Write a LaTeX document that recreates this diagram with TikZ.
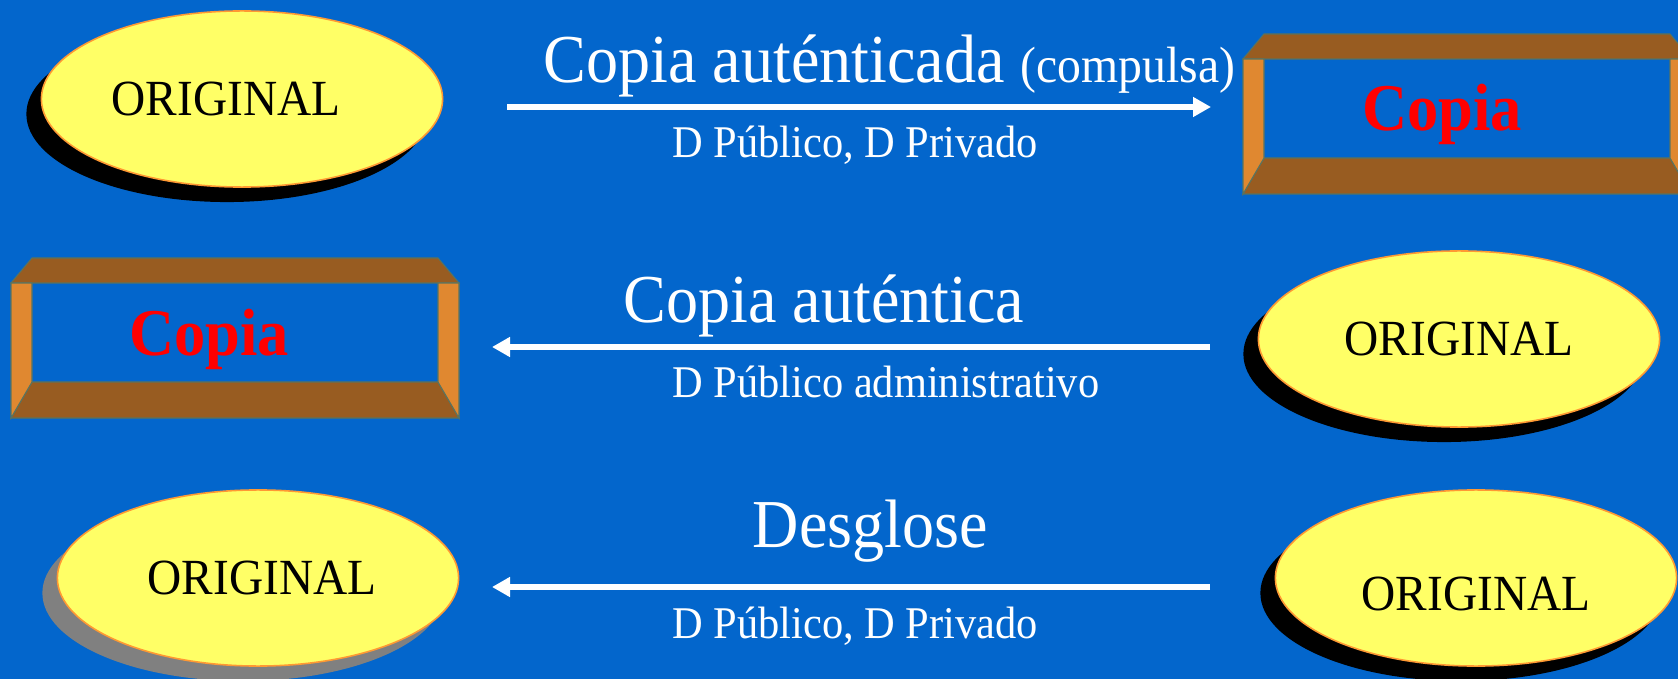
\documentclass[tikz,border=0pt]{standalone}
\usepackage{fontspec}
\setmainfont[FakeStretch=0.935]{Liberation Serif}
\usetikzlibrary{positioning,shapes.geometric,arrows.meta,shadows}

\definecolor{bgblue}{RGB}{3,102,204}
\definecolor{ovalyellow}{RGB}{255,255,102}
\definecolor{ovalline}{RGB}{255,153,51}
\definecolor{bevelbrown}{RGB}{152,92,33}
\definecolor{bevelorange}{RGB}{224,136,48}
\definecolor{bevelline}{RGB}{90,115,95}

\tikzset{
  oval/.style={ellipse,draw=ovalline,line width=0.45pt,fill=ovalyellow,
    minimum width=4.01cm,minimum height=1.76cm,inner sep=0pt,
    font=\fontsize{14.4}{17}\selectfont},
  blackshadow/.style={drop shadow={shadow xshift=-0.15cm,shadow yshift=-0.15cm,fill=black,opacity=1}},
  grayshadow/.style={drop shadow={shadow xshift=-0.15cm,shadow yshift=-0.15cm,fill=gray,opacity=1}},
  bevel/.style={draw=bevelline,line width=0.3pt},
  copiatxt/.style={anchor=base,text=red,font=\fontsize{19}{22}\selectfont\bfseries},
  bigtxt/.style={anchor=base west,text=white,inner sep=0pt,font=\fontsize{19.5}{23}\selectfont},
  smalltxt/.style={anchor=base west,text=white,inner sep=0pt,font=\fontsize{12.9}{15}\selectfont},
  arr/.style={white,line width=0.06cm,-{Triangle[length=0.18cm,width=0.19cm]}}
}

\begin{document}
\begin{tikzpicture}[x=0.01cm,y=-0.01cm]
\useasboundingbox (0,0) rectangle (1678,679);
\clip (0,0) rectangle (1678,679);
\fill[bgblue] (0,0) rectangle (1678,679);

% bevelled frames
\foreach \dx/\dy in {0/0,1232/-224}{
  \begin{scope}[shift={(\dx,\dy)}]
    \filldraw[bevel,fill=bevelbrown] (32,258) -- (438,258) -- (459,283) -- (11,283) -- cycle;
    \filldraw[bevel,fill=bevelbrown] (32,382) -- (438,382) -- (459,418) -- (11,418) -- cycle;
    \filldraw[bevel,fill=bevelorange] (11,283) -- (32,283) -- (32,382) -- (11,418) -- cycle;
    \filldraw[bevel,fill=bevelorange] (438,283) -- (459,283) -- (459,418) -- (438,382) -- cycle;
  \end{scope}
}
\node[copiatxt] (copia1) at (1442,131) {Copia};
\node[copiatxt] (copia2) at (209,356) {Copia};

% ovals
\node[oval,blackshadow] (orig1) at (242,99) {\kern-0.32cm ORIGINAL};
\node[oval,blackshadow] (orig2) at (1459,339) {ORIGINAL};
\node[oval,blackshadow,text height=0.65cm] (orig3) at (1476,578) {ORIGINAL};
\node[oval,grayshadow] (orig4) at (258,578) {\kern0.08cm ORIGINAL};

% arrows
\coordinate (a1s) at (507,107);
\coordinate (a1e) at (1211,107);
\coordinate (a2s) at (1210,347);
\coordinate (a2e) at (492,347);
\coordinate (a3s) at (1210,587);
\coordinate (a3e) at (492,587);
\draw[arr] (a1s) -- (a1e);
\draw[arr] (a2s) -- (a2e);
\draw[arr] (a3s) -- (a3e);

% labels
\node[bigtxt] (t1) at (543,83) {Copia auténticada {\fontsize{14.5}{16}\selectfont(compulsa)}};
\node[smalltxt] (s1) at (672,158) {D Público, D Privado};
\node[bigtxt] (t2) at (623,323) {Copia auténtica};
\node[smalltxt] (s2) at (672,398) {D Público administrativo};
\node[bigtxt] (t3) at (752,547) {Desglose};
\node[smalltxt] (s3) at (672,638) {D Público, D Privado};
\end{tikzpicture}
\end{document}
